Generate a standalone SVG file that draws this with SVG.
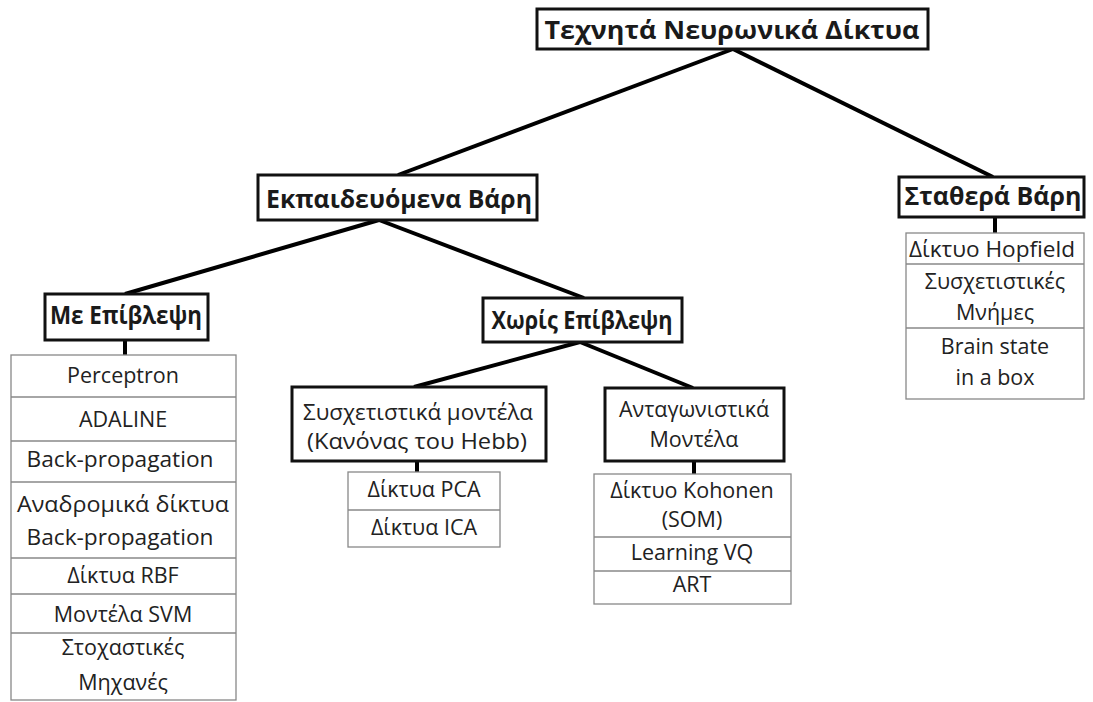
<svg xmlns="http://www.w3.org/2000/svg" width="1093" height="702" viewBox="0 0 1093 702">
<style>
.hb{fill:#fff;stroke:#111;stroke-width:3}
.lb{fill:#fff;stroke:#888;stroke-width:1.3}
.dv{stroke:#888;stroke-width:1.3}
.ht{font-family:"Open Sans","Liberation Sans",sans-serif;font-weight:bold;font-size:25px;fill:#1a1a1a;text-anchor:middle}
.t{font-family:"Open Sans","Liberation Sans",sans-serif;font-size:21.5px;fill:#222;text-anchor:middle}
.c{stroke:#000;stroke-width:4;fill:none}
.v{stroke:#000;stroke-width:4}
</style>
<rect width="1093" height="702" fill="#fff"/>
<g id="connectors">
<line class="c" x1="733" y1="49" x2="398" y2="175"/>
<line class="c" x1="733" y1="49" x2="993" y2="177"/>
<line class="c" x1="379" y1="220" x2="125" y2="294"/>
<line class="c" x1="379" y1="220" x2="584" y2="298"/>
<line class="c" x1="580" y1="342" x2="414" y2="387"/>
<line class="c" x1="580" y1="342" x2="693" y2="388"/>
<line class="v" x1="125" y1="340" x2="125" y2="355"/>
<line class="v" x1="995" y1="217" x2="995" y2="233"/>
<line class="v" x1="417" y1="461" x2="417" y2="472"/>
<line class="v" x1="694" y1="461" x2="694" y2="474"/>
</g>
<g id="root">
<rect class="hb" x="537" y="9" width="391" height="40"/>
<text class="ht" x="732" y="39" textLength="375" lengthAdjust="spacingAndGlyphs">Τεχνητά Νευρωνικά Δίκτυα</text>
</g>
<g id="trained">
<rect class="hb" x="258" y="175" width="279" height="45"/>
<text class="ht" x="399" y="208" textLength="266" lengthAdjust="spacingAndGlyphs">Εκπαιδευόμενα Βάρη</text>
</g>
<g id="fixed">
<rect class="hb" x="899" y="177" width="185" height="40"/>
<text class="ht" x="993" y="205" textLength="177" lengthAdjust="spacingAndGlyphs">Σταθερά Βάρη</text>
</g>
<g id="supervised">
<rect class="hb" x="45" y="294" width="163" height="46"/>
<text class="ht" x="126" y="324" textLength="152" lengthAdjust="spacingAndGlyphs">Με Επίβλεψη</text>
</g>
<g id="unsupervised">
<rect class="hb" x="483" y="298" width="199" height="44"/>
<text class="ht" x="582" y="329" textLength="181" lengthAdjust="spacingAndGlyphs">Χωρίς Επίβλεψη</text>
</g>
<g id="associative">
<rect class="hb" x="292" y="387" width="254" height="74"/>
<text class="t" x="418" y="420" textLength="230" lengthAdjust="spacingAndGlyphs">Συσχετιστικά μοντέλα</text>
<text class="t" x="417" y="449" textLength="220" lengthAdjust="spacingAndGlyphs">(Κανόνας του Hebb)</text>
</g>
<g id="competitive">
<rect class="hb" x="605" y="388" width="179" height="73"/>
<text class="t" x="694" y="417">Ανταγωνιστικά</text>
<text class="t" x="694" y="447">Μοντέλα</text>
</g>
<g id="supervised-list">
<rect class="lb" x="11" y="355" width="225" height="345"/>
<line class="dv" x1="11" y1="397" x2="236" y2="397"/>
<line class="dv" x1="11" y1="441" x2="236" y2="441"/>
<line class="dv" x1="11" y1="482" x2="236" y2="482"/>
<line class="dv" x1="11" y1="558" x2="236" y2="558"/>
<line class="dv" x1="11" y1="594" x2="236" y2="594"/>
<line class="dv" x1="11" y1="633" x2="236" y2="633"/>
<text class="t" x="123" y="383">Perceptron</text>
<text class="t" x="123" y="427">ADALINE</text>
<text class="t" x="120" y="467" textLength="187" lengthAdjust="spacingAndGlyphs">Back-propagation</text>
<text class="t" x="123" y="512" textLength="212" lengthAdjust="spacingAndGlyphs">Αναδρομικά δίκτυα</text>
<text class="t" x="120" y="545" textLength="187" lengthAdjust="spacingAndGlyphs">Back-propagation</text>
<text class="t" x="123" y="583">Δίκτυα RBF</text>
<text class="t" x="123" y="622">Μοντέλα SVM</text>
<text class="t" x="123" y="655">Στοχαστικές</text>
<text class="t" x="123" y="690">Μηχανές</text>
</g>
<g id="fixed-list">
<rect class="lb" x="906" y="233" width="178" height="166"/>
<line class="dv" x1="906" y1="264" x2="1084" y2="264"/>
<line class="dv" x1="906" y1="328" x2="1084" y2="328"/>
<text class="t" x="992" y="257" textLength="166" lengthAdjust="spacingAndGlyphs">Δίκτυο Hopfield</text>
<text class="t" x="995" y="289">Συσχετιστικές</text>
<text class="t" x="995" y="320">Μνήμες</text>
<text class="t" x="995" y="354">Brain state</text>
<text class="t" x="995" y="385">in a box</text>
</g>
<g id="associative-list">
<rect class="lb" x="348" y="472" width="152" height="75"/>
<line class="dv" x1="348" y1="510" x2="500" y2="510"/>
<text class="t" x="424" y="497">Δίκτυα PCA</text>
<text class="t" x="424" y="535">Δίκτυα ICA</text>
</g>
<g id="competitive-list">
<rect class="lb" x="594" y="474" width="197" height="130"/>
<line class="dv" x1="594" y1="537" x2="791" y2="537"/>
<line class="dv" x1="594" y1="571" x2="791" y2="571"/>
<text class="t" x="692" y="498">Δίκτυο Kohonen</text>
<text class="t" x="692" y="527">(SOM)</text>
<text class="t" x="692" y="560">Learning VQ</text>
<text class="t" x="692" y="592">ART</text>
</g>
</svg>
